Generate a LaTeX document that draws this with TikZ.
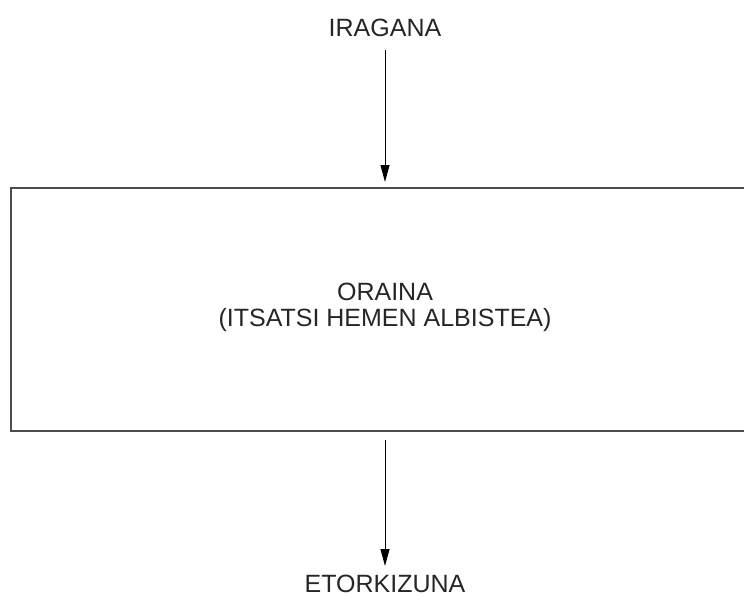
\documentclass[tikz,border=0pt]{standalone}
\usepackage{fontspec}
\setmainfont{Liberation Sans}
\usetikzlibrary{arrows.meta}
\begin{document}
\begin{tikzpicture}[x=1pt,y=-1pt,
  lbl/.style={font=\fontsize{25}{26}\selectfont, text=black!85, inner sep=0pt, anchor=base, align=center},
  frame/.style={draw=black!70, line width=1.4pt, minimum width=748pt, minimum height=243pt, inner sep=0pt},
  arr/.style={draw=black, line width=1pt, -{Triangle[length=17pt,width=9pt]}}]
\clip (0,0) rectangle (744,597);
\useasboundingbox (0,0) rectangle (744,597);
\node[lbl] (past) at (385,36) {IRAGANA};
\node[frame] (present) at (385,309.5) {};
\node[lbl] (presenttext) at (385,326) {ORAINA\\(ITSATSI HEMEN ALBISTEA)};
\node[lbl] (future) at (385,592) {ETORKIZUNA};
\coordinate (a1s) at (385,50);
\coordinate (a1e) at (385,182);
\coordinate (a2s) at (385,440);
\coordinate (a2e) at (385,566);
\draw[arr] (a1s) -- (a1e);
\draw[arr] (a2s) -- (a2e);
\end{tikzpicture}
\end{document}
